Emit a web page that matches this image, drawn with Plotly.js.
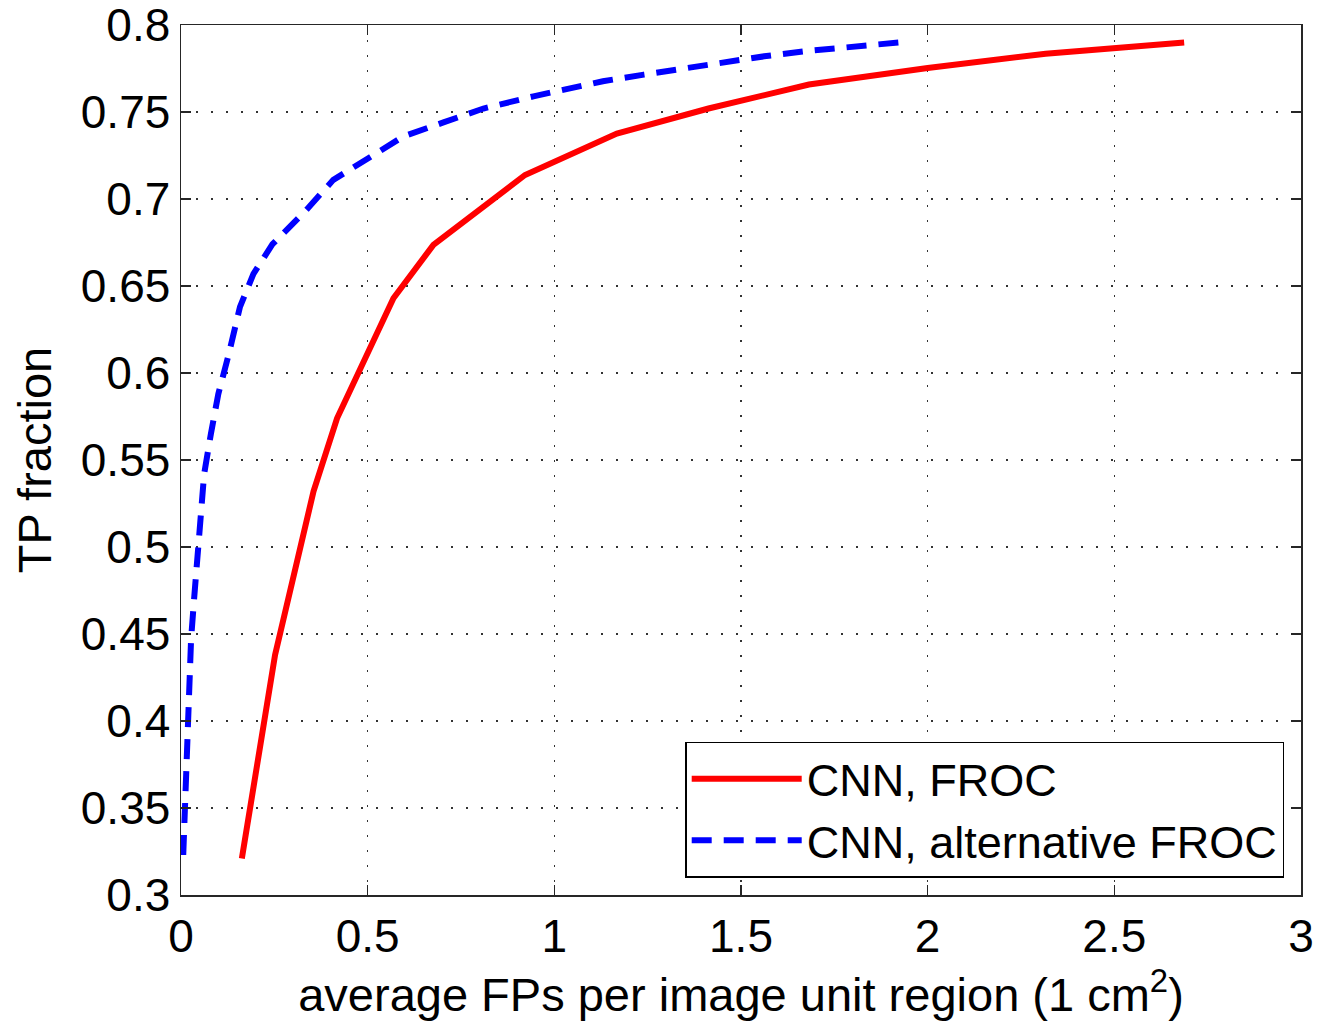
<!DOCTYPE html>
<html>
<head>
<meta charset="utf-8">
<script src="https://cdn.plot.ly/plotly-3.0.1.min.js"></script>
<style>html,body{margin:0;padding:0;background:#fff;}#chart{width:1334px;height:1033px;}</style>
</head>
<body>
<div id="chart"></div>
<script>
const frocX = [0.163, 0.252, 0.355, 0.418, 0.569, 0.676, 0.9215, 1.1675, 1.413, 1.682, 2.0, 2.316, 2.687];
const frocY = [0.321, 0.438, 0.532, 0.574, 0.643, 0.6736, 0.7138, 0.7376, 0.752, 0.7658, 0.7753, 0.7835, 0.790];
const altX = [0.006, 0.011, 0.017, 0.022, 0.027, 0.035, 0.043, 0.052, 0.062, 0.08, 0.10, 0.127, 0.158, 0.194, 0.245, 0.337, 0.408, 0.506, 0.596, 0.703, 0.81, 0.944, 1.042, 1.13, 1.24, 1.35, 1.455, 1.562, 1.676, 1.79, 1.925];
const altY = [0.323, 0.353, 0.399, 0.423, 0.447, 0.47, 0.494, 0.517, 0.542, 0.565, 0.588, 0.61, 0.638, 0.657, 0.674, 0.694, 0.711, 0.724, 0.736, 0.744, 0.752, 0.759, 0.7638, 0.7677, 0.7715, 0.7753, 0.779, 0.782, 0.785, 0.7875, 0.79];
const xTickVals = [0, 0.5, 1, 1.5, 2, 2.5, 3];
const xTickText = ["0", "0.5", "1", "1.5", "2", "2.5", "3"];
const yTickVals = [0.3, 0.35, 0.4, 0.45, 0.5, 0.55, 0.6, 0.65, 0.7, 0.75, 0.8];
const yTickText = ["0.3", "0.35", "0.4", "0.45", "0.5", "0.55", "0.6", "0.65", "0.7", "0.75", "0.8"];
const seriesNames = ["CNN, FROC", "CNN, alternative FROC"];

const font = "Liberation Sans, Arial, Helvetica, sans-serif";
const traces = [
  {x: frocX, y: frocY, mode: "lines", name: seriesNames[0], line: {color: "#ff0000", width: 6}},
  {x: altX, y: altY, mode: "lines", name: seriesNames[1], line: {color: "#0000ff", width: 6, dash: "20px,12px"}}
];
const axisCommon = {
  showline: true, linecolor: "#262626", linewidth: 1.5, mirror: "ticks",
  ticks: "inside", ticklen: 10, tickwidth: 1.5, tickcolor: "#262626",
  showgrid: true, gridcolor: "#333", griddash: "2px,13px", gridwidth: 1.5,
  zeroline: false, ticklabeloverflow: "allow",
  tickfont: {family: font, size: 46, color: "#000"}
};
const layout = {
  width: 1334, height: 1033,
  margin: {l: 181, r: 33, t: 25, b: 138},
  paper_bgcolor: "#fff", plot_bgcolor: "#fff",
  showlegend: true,
  legend: {x: 0.985, y: 0.02, xanchor: "right", yanchor: "bottom",
    bordercolor: "#000", borderwidth: 1.5, bgcolor: "#fff",
    font: {family: font, size: 45, color: "#000"}, itemwidth: 110, tracegroupgap: 0},
  xaxis: Object.assign({}, axisCommon, {range: [0, 3], tickvals: xTickVals, ticktext: xTickText,
    title: {text: "average FPs per image unit region (1 cm<sup>2</sup>)", font: {family: font, size: 47, color: "#000"}, standoff: 14}}),
  yaxis: Object.assign({}, axisCommon, {range: [0.3, 0.8], tickvals: yTickVals, ticktext: yTickText,
    title: {text: "TP fraction", font: {family: font, size: 47, color: "#000"}, standoff: 14}})
};
Plotly.newPlot("chart", traces, layout, {displayModeBar: false, staticPlot: true});
</script>
</body>
</html>
